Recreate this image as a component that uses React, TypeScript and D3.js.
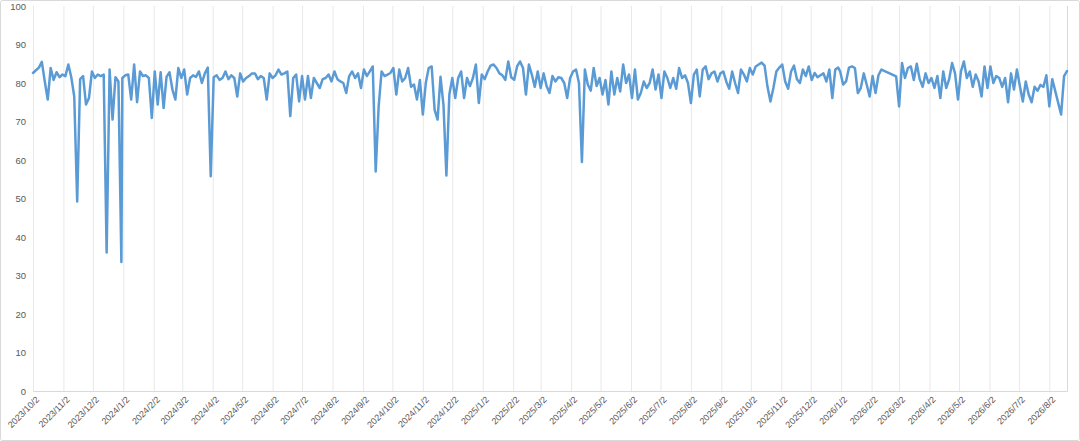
import React, { useEffect, useRef } from 'react';
import * as d3 from 'd3';

// values, one point every 3 days, null = no data (line is joined across)
const stepDays = 3;

const start2023 = '2023-10-02';
const values2023 = [
	82.6, 83.3, 84.0, 85.5, 80.4, 75.7, 83.9, 80.8, 82.8, 81.5,
	82.2, 81.8, 84.8, 81.5, 76.5, 49.2, 81.0, 81.8, 74.4, 76.1,
	83.0, 81.3, 82.2, 81.8, 82.2, 36.0, 83.5, 70.5, 81.5, 80.4,
	33.5,
];

const start2024 = '2024-01-01';
const values2024 = [
	81.3, 82.0, 82.2, 75.7, 84.8, 75.0, 83.0, 81.8, 82.0, 81.3,
	70.9, 83.0, 74.4, 82.8, 73.5, 81.6, 82.8, 78.3, 75.7, 83.9,
	81.3, 83.5, 77.0, 81.3, 82.0, 81.6, 83.0, 80.0, 82.5, 84.0,
	55.8, 81.5, 82.0, 80.8, 81.3, 83.0, 81.0, 82.0, 81.3, 76.5,
	82.5, 80.4, 81.3, 81.8, 82.5, 82.5, 81.0, 81.8, 81.3, 75.7,
	82.5, 81.3, 82.0, 83.5, 82.2, 82.5, 83.0, 71.4, 81.3, 82.2,
	75.2, 81.8, 75.7, 81.8, 76.1, 81.3, 80.0, 78.7, 81.0, 81.3,
	82.2, 80.4, 83.0, 81.0, 80.4, 80.0, 77.4, 81.8, 83.0, 81.3,
	82.5, 78.7, 83.5, 81.8, 83.0, 84.3, 57.0, 73.9, 83.0, 81.8,
	82.2, 82.6, 83.9, 77.0, 83.5, 80.4, 81.3, 83.9, 79.0, 79.6,
	75.7, 80.8, 71.8, 80.0, 83.9, 84.3, 73.0, 70.5, 81.6, 74.4,
	56.0, 77.0, 81.3, 76.1, 81.3, 83.0, 76.1, 81.3, 79.2, 81.3,
	84.8, 74.8,
];

const start2025 = '2025-01-01';
const values2025 = [
	82.2, 81.0, 83.0, 84.5, 84.8, 83.9, 82.5, 82.0, 80.8, 85.6,
	81.5, 80.8, 84.3, 85.6, 83.9, 77.0, 84.8, 82.2, 79.0, 83.0,
	78.7, 82.5, 79.2, 77.4, 81.8, 80.4, 81.5, 81.3, 80.0, 76.1,
	81.3, 83.0, 83.5, 80.0, 59.5, 83.5, 79.6, 78.0, 83.9, 79.2,
	81.3, 77.0, 80.8, 74.4, 83.0, 77.0, 81.3, 77.8, 84.8, 80.0,
	82.2, 76.1, 83.5, 75.7, 77.4, 80.4, 78.7, 80.0, 83.5, 78.3,
	82.2, 76.1, 83.0, 81.3, 78.7, 81.3, 78.5, 83.9, 81.3, 82.0,
	80.0, 74.8, 82.2, 83.5, 76.5, 83.5, 84.3, 81.0, 82.5, 83.0,
	80.4, 82.5, 83.0, 80.4, 78.5, 83.0, 80.0, 77.4, 83.5, 82.2,
	80.4, 83.9, 82.2, 84.3, 84.8, 85.3, 84.5, 79.0, 75.2, 78.7,
	83.0, 84.0, 84.8, 80.4, 78.5, 83.0, 84.5, 81.0, 80.0, 83.5,
	81.8, 84.3, 80.8, 82.6, 81.5, 82.0, 82.5, 80.4, 83.5, 76.1,
	83.5, 84.0,
];

const start2026 = '2026-01-01';
const values2026 = [
	83.0, 79.6, 80.4, 84.0, 84.3, 83.9, 77.4, 78.7, 82.5, 79.6,
	76.5, 81.8, 77.4, 82.0, 83.5, null, null, null, null, 81.7,
	73.9, 85.2, 81.3, 83.9, 84.3, 80.8, 85.0, 81.0, 79.0, 82.5,
	80.0, 81.3, 78.7, 81.8, 76.1, 83.0, 78.7, 81.0, 85.2, 82.5,
	75.7, 83.0, 85.6, 81.3, 83.0, 79.0, 82.2, 80.4, 76.5, 84.3,
	78.7, 84.3, 80.0, 81.8, 81.3, 79.0, 81.3, 75.0, 82.5, 78.3,
	83.5, 79.2, 75.2, 80.4, 77.0, 75.0, 79.0, 78.0, 79.5, 79.0,
	82.0, 73.9, 81.0, null, null, 71.8, 81.8, 83.1,
];

const axisStart = '2023-10-02';
const axisEnd = '2026-08-20';
const yTicks = [0, 10, 20, 30, 40, 50, 60, 70, 80, 90, 100];

interface Point {
	date: Date
	value: number
}

const parse = d3.timeParse('%Y-%m-%d');

const App: React.FC = () => {
	const svgRef = useRef<SVGSVGElement | null>(null);

	useEffect(() => {
		if (svgRef.current == null) return;

		const width = 1080;
		const height = 441;
		const margin = { top: 6, right: 13, bottom: 50, left: 33 };
		const innerWidth = width - margin.left - margin.right;
		const innerHeight = height - margin.top - margin.bottom;

		const chunks: [string, (number | null)[]][] = [
			[start2023, values2023],
			[start2024, values2024],
			[start2025, values2025],
			[start2026, values2026],
		];
		const data: Point[] = [];
		chunks.forEach(([start, values]) => {
			const first = parse(start) as Date;
			values.forEach((v, i) => {
				if (v == null) return;
				data.push({ date: d3.timeDay.offset(first, i * stepDays), value: v });
			});
		});

		const t0 = parse(axisStart) as Date;
		const t1 = parse(axisEnd) as Date;

		const xScale = d3.scaleTime().domain([t0, t1]).range([0, innerWidth]);
		const yScale = d3.scaleLinear().domain([0, 100]).range([innerHeight, 0]);

		// month ticks on the 2nd, like the source axis
		const monthTicks = d3.timeMonth.range(d3.timeMonth.floor(t0), t1)
			.map(d => d3.timeDay.offset(d, 1))
			.filter(d => d >= t0 && d <= t1);

		const svg = d3.select(svgRef.current);
		svg.selectAll('*').remove();
		svg.attr('width', width).attr('height', height);

		svg.append('rect')
			.attr('x', 0.5).attr('y', 0.5)
			.attr('width', width - 1).attr('height', height - 1)
			.attr('rx', 2)
			.attr('fill', '#fff')
			.attr('stroke', '#d9d9d9');

		const g = svg.append('g')
			.attr('transform', `translate(${margin.left},${margin.top})`);

		const fmt = (d: Date) => `${d.getFullYear()}/${d.getMonth() + 1}/${d.getDate()}`;

		const xAxis = g.append('g')
			.attr('transform', `translate(0,${innerHeight})`)
			.call(d3.axisBottom(xScale).tickValues(monthTicks).tickSize(-innerHeight).tickFormat(d => fmt(d as Date)));
		xAxis.select('.domain').attr('stroke', '#d9d9d9');
		xAxis.selectAll('.tick line').attr('stroke', '#e8e8e8');
		xAxis.selectAll('.tick text')
			.attr('fill', '#595959')
			.attr('font-family', '"Liberation Sans", Arial, sans-serif')
			.attr('font-size', 9)
			.attr('text-anchor', 'end')
			.attr('transform', 'translate(4,7) rotate(-45)')
			.attr('dy', '0.35em')
			.attr('y', 0)
			.attr('x', 0);

		const yAxis = g.append('g')
			.call(d3.axisLeft(yScale).tickValues(yTicks).tickSize(0).tickPadding(7));
		yAxis.select('.domain').remove();
		yAxis.selectAll('.tick text')
			.attr('fill', '#595959')
			.attr('font-family', '"Liberation Sans", Arial, sans-serif')
			.attr('font-size', 9.5);

		const line = d3.line<Point>()
			.x(d => xScale(d.date))
			.y(d => yScale(d.value));

		g.append('path')
			.datum(data)
			.attr('fill', 'none')
			.attr('stroke', '#5b9bd5')
			.attr('stroke-width', 2.5)
			.attr('stroke-linejoin', 'round')
			.attr('stroke-linecap', 'round')
			.attr('d', line);
	}, []);

	return (
		<div style={{ position: 'absolute', left: 0, top: 0 }}>
			<svg ref={svgRef}></svg>
		</div>
	);
}

export default App;
